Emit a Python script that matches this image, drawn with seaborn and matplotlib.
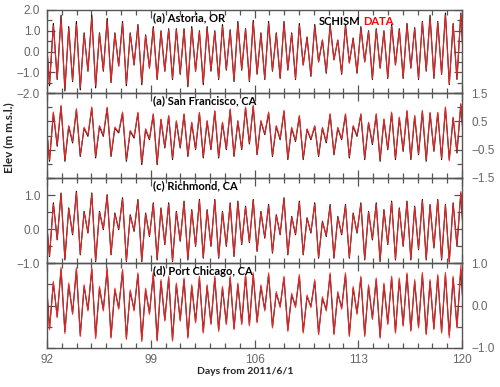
import numpy as np
import pandas as pd
import seaborn as sns
import matplotlib.pyplot as plt
from matplotlib.ticker import MultipleLocator

# -------------------------------------------------------
# tidal extrema (high / low waters)
# -------------------------------------------------------
n_cyc = 55
t_high = 91.91 + 0.5187 * np.arange(n_cyc)   # days from 2011/6/1
t_low = t_high + 0.2594

# (a) Astoria, OR
ast_mod_hi = [1.10, 1.35, 1.75, 1.20, 1.45, 0.90, 1.75, 0.90, 1.60, 0.90, 1.45, 0.90, 1.30, 0.80, 1.20, 1.00, 1.10, 1.10, 1.10, 1.20, 1.00, 1.20, 1.00, 1.30, 1.05, 1.45, 1.10,
              1.50, 0.90, 1.45, 0.90, 1.45, 0.90, 1.35, 0.70, 1.30, 0.55, 1.30, 0.55, 1.30, 0.65, 1.20, 1.00, 1.10, 1.00, 1.30, 1.10, 1.35, 1.15, 1.45, 1.75, 1.45, 1.85, 1.35, 1.85]
ast_obs_hi = [1.00, 1.25, 1.60, 1.10, 1.30, 0.85, 1.60, 0.85, 1.45, 0.85, 1.35, 0.85, 1.20, 0.75, 1.10, 0.95, 1.05, 1.05, 1.05, 1.10, 0.95, 1.10, 0.95, 1.20, 1.00, 1.35, 1.05,
              1.40, 0.85, 1.35, 0.85, 1.35, 0.85, 1.25, 0.65, 1.20, 0.55, 1.20, 0.55, 1.20, 0.60, 1.10, 0.95, 1.05, 0.95, 1.20, 1.05, 1.25, 1.10, 1.40, 1.65, 1.40, 1.75, 1.30, 1.80]
ast_mod_lo = [-1.65, -1.35, -1.90, -1.45, -1.85, -0.95, -1.75, -0.95, -1.50, -0.70, -1.65, -0.65, -1.60, -0.80, -1.35, -0.95, -1.35, -1.10, -1.70, -0.95, -1.60, -0.95, -1.35, -0.90, -1.45, -0.90,
              -1.45, -1.10, -1.35, -0.95, -1.30, -0.90, -1.35, -0.65, -1.20, -0.50, -1.05, -0.40, -1.10, -0.55, -1.05, -0.50, -1.35, -0.80, -1.30, -0.65, -1.30, -0.80, -1.35, -0.95, -1.30, -1.10, -1.60, -1.35, -1.50]
ast_obs_lo = [-1.55, -1.30, -1.80, -1.40, -1.75, -0.95, -1.65, -0.90, -1.45, -0.70, -1.55, -0.65, -1.50, -0.80, -1.30, -0.95, -1.30, -1.05, -1.60, -0.95, -1.50, -0.90, -1.30, -0.85, -1.40, -0.85,
              -1.40, -1.05, -1.30, -0.90, -1.25, -0.85, -1.30, -0.65, -1.15, -0.50, -1.00, -0.40, -1.05, -0.55, -1.00, -0.50, -1.30, -0.80, -1.25, -0.65, -1.25, -0.80, -1.30, -0.90, -1.25, -1.05, -1.55, -1.30, -1.45]

# (a) San Francisco, CA
sf_mod_hi = [0.60, 0.79, 1.03, 0.32, 0.91, 0.26, 0.97, 0.32, 0.97, 0.26, 0.79, 0.15, 0.79, 0.21, 0.74, 0.56, 0.68, 0.50, 0.74, 0.44, 0.79, 0.50, 0.85, 0.44, 0.91, 0.50, 0.97,
             1.03, 0.50, 0.79, 0.32, 0.85, 0.26, 0.68, 0.21, 0.32, 0.26, 0.74, 0.26, 0.74, 0.32, 0.74, 0.44, 0.74, 0.56, 0.79, 0.62, 0.85, 0.68, 0.85, 0.79, 0.79, 0.97, 0.62, 1.09]
sf_obs_hi = [0.62, 0.83, 1.07, 0.35, 0.95, 0.29, 1.01, 0.35, 1.00, 0.30, 0.83, 0.18, 0.82, 0.24, 0.77, 0.58, 0.71, 0.52, 0.77, 0.47, 0.82, 0.53, 0.88, 0.47, 0.94, 0.53, 1.00,
             1.07, 0.53, 0.83, 0.35, 0.89, 0.29, 0.71, 0.24, 0.35, 0.29, 0.77, 0.29, 0.77, 0.35, 0.77, 0.47, 0.77, 0.59, 0.83, 0.65, 0.89, 0.71, 0.89, 0.82, 0.82, 1.01, 0.65, 1.13]
sf_mod_lo = [-0.91, -0.38, -0.91, -0.26, -0.74, -0.03, -0.79, -0.03, -0.74, 0.09, -0.91, -0.09, -1.03, -0.15, -1.03, -0.44, -0.85, -0.44, -0.74, -0.50, -0.79, -0.50, -0.79, -0.50, -0.74, -0.50,
             -0.30, -0.68, 0.03, -0.74, -0.15, -0.85, -0.21, -0.85, -0.15, -0.74, -0.26, -0.68, -0.15, -0.79, -0.03, -0.85, -0.32, -0.91, -0.50, -0.85, -0.56, -0.85, -0.68, -0.91, -0.56, -0.85, -0.85, -0.62, -0.70]
sf_obs_lo = [-0.86, -0.34, -0.86, -0.22, -0.70, 0.01, -0.74, 0.01, -0.70, 0.12, -0.86, -0.05, -0.97, -0.11, -0.97, -0.40, -0.80, -0.40, -0.70, -0.46, -0.74, -0.46, -0.74, -0.46, -0.70, -0.46,
             -0.27, -0.64, 0.06, -0.70, -0.11, -0.80, -0.17, -0.80, -0.11, -0.70, -0.22, -0.64, -0.11, -0.74, 0.01, -0.80, -0.28, -0.86, -0.46, -0.80, -0.52, -0.80, -0.64, -0.86, -0.52, -0.80, -0.90, -0.58, -0.66]

# (c) Richmond, CA
ri_mod_hi = [0.50, 0.77, 1.06, 0.62, 1.11, 0.52, 1.06, 0.52, 1.01, 0.47, 0.92, 0.42, 0.87, 0.47, 0.77, 0.62, 0.77, 0.52, 0.82, 0.57, 0.87, 0.57, 0.87, 0.52, 0.77, 0.82, 0.67,
             0.87, 0.52, 0.72, 0.42, 0.92, 0.37, 0.82, 0.33, 0.77, 0.23, 0.72, 0.37, 0.72, 0.47, 0.77, 0.52, 0.77, 0.57, 0.82, 0.62, 0.82, 0.67, 0.87, 0.72, 0.87, 0.72, 0.77, 1.06]
ri_obs_hi = [0.47, 0.73, 1.02, 0.59, 1.07, 0.49, 1.02, 0.49, 0.97, 0.44, 0.88, 0.39, 0.83, 0.44, 0.73, 0.59, 0.73, 0.49, 0.78, 0.54, 0.83, 0.54, 0.83, 0.49, 0.73, 0.78, 0.64,
             0.83, 0.49, 0.68, 0.39, 0.88, 0.34, 0.78, 0.30, 0.73, 0.21, 0.68, 0.34, 0.68, 0.44, 0.73, 0.49, 0.73, 0.54, 0.78, 0.59, 0.78, 0.64, 0.83, 0.69, 0.85, 0.69, 0.74, 1.10]
ri_mod_lo = [-0.81, -0.32, -0.91, -0.17, -0.76, -0.12, -0.96, -0.02, -0.76, -0.02, -0.96, -0.07, -0.96, -0.22, -0.91, -0.46, -0.96, -0.36, -0.91, -0.51, -0.86, -0.51, -0.86, -0.51, -0.81, -0.46,
             -0.40, -0.66, -0.27, -0.71, -0.17, -0.76, -0.17, -0.76, -0.12, -0.86, -0.22, -0.86, -0.17, -0.86, -0.12, -0.91, -0.32, -0.96, -0.46, -0.91, -0.51, -0.91, -0.61, -0.91, -0.56, -0.91, -0.96, -0.51, -0.80]
ri_obs_lo = [-0.78, -0.29, -0.88, -0.14, -0.73, -0.09, -0.93, 0.01, -0.73, 0.01, -0.93, -0.04, -0.93, -0.19, -0.88, -0.43, -0.93, -0.33, -0.88, -0.48, -0.83, -0.48, -0.83, -0.48, -0.78, -0.43,
             -0.37, -0.63, -0.24, -0.68, -0.14, -0.73, -0.14, -0.73, -0.09, -0.83, -0.19, -0.83, -0.14, -0.83, -0.09, -0.88, -0.29, -0.93, -0.43, -0.88, -0.48, -0.88, -0.58, -0.88, -0.53, -0.88, -0.99, -0.48, -0.77]

# (d) Port Chicago, CA
pc_mod_hi = [0.80, 0.53, 0.85, 0.49, 0.85, 0.45, 0.85, 0.41, 0.85, 0.37, 0.81, 0.33, 0.73, 0.37, 0.73, 0.57, 0.65, 0.49, 0.61, 0.45, 0.65, 0.45, 0.65, 0.41, 0.65, 0.49, 0.69,
             0.73, 0.45, 0.73, 0.29, 0.65, 0.25, 0.69, 0.21, 0.57, 0.17, 0.73, 0.29, 0.73, 0.41, 0.65, 0.45, 0.61, 0.49, 0.65, 0.61, 0.73, 0.57, 0.73, 0.57, 0.69, 0.73, 0.65, 0.85]
pc_obs_hi = [0.84, 0.57, 0.90, 0.53, 0.89, 0.49, 0.89, 0.45, 0.89, 0.41, 0.85, 0.37, 0.77, 0.41, 0.77, 0.61, 0.69, 0.53, 0.65, 0.49, 0.69, 0.49, 0.69, 0.45, 0.69, 0.53, 0.73,
             0.77, 0.49, 0.77, 0.33, 0.69, 0.29, 0.73, 0.25, 0.61, 0.21, 0.77, 0.33, 0.77, 0.45, 0.69, 0.49, 0.65, 0.53, 0.69, 0.65, 0.77, 0.61, 0.78, 0.61, 0.73, 0.78, 0.69, 0.95]
pc_mod_lo = [-0.54, -0.26, -0.62, -0.18, -0.70, -0.10, -0.74, -0.10, -0.74, -0.06, -0.77, -0.10, -0.81, -0.18, -0.81, -0.34, -0.81, -0.34, -0.74, -0.38, -0.62, -0.42, -0.58, -0.42, -0.54, -0.42,
             -0.45, -0.38, -0.10, -0.50, -0.02, -0.58, -0.02, -0.62, -0.02, -0.66, -0.10, -0.66, -0.06, -0.70, -0.18, -0.70, -0.30, -0.74, -0.42, -0.62, -0.46, -0.58, -0.50, -0.66, -0.54, -0.62, -0.70, -0.50, -0.60]
pc_obs_lo = [-0.57, -0.29, -0.66, -0.21, -0.73, -0.13, -0.78, -0.13, -0.77, -0.09, -0.80, -0.13, -0.85, -0.21, -0.84, -0.37, -0.84, -0.37, -0.77, -0.41, -0.65, -0.45, -0.61, -0.45, -0.57, -0.45,
             -0.48, -0.41, -0.13, -0.53, -0.05, -0.61, -0.05, -0.65, -0.05, -0.69, -0.13, -0.69, -0.09, -0.73, -0.21, -0.73, -0.33, -0.77, -0.45, -0.65, -0.49, -0.61, -0.53, -0.69, -0.57, -0.65, -0.76, -0.53, -0.63]

station_titles = ['(a) Astoria, OR', '(a) San Francisco, CA', '(c) Richmond, CA', '(d) Port Chicago, CA']
day_ticks = [92, 99, 106, 113, 120]


def tide_df(hi, lo):
    d = pd.DataFrame({'day': np.r_[t_high, t_low], 'elev': np.r_[hi, lo]})
    return d.sort_values('day')


#%%
# -------------------------------------------------------
# 4 stacked panels
# -------------------------------------------------------
sns.set_style('ticks')
plt.rcParams['font.family'] = ['Liberation Sans', 'DejaVu Sans']

fig = plt.figure(figsize=(5.0, 3.87), dpi=100)
W, H = 500, 387
edges = [10, 93, 178, 263, 348]   # panel top/bottom, pixels
gray = '#555555'
bold_font = ['Lato', 'DejaVu Sans']

panels = [
    (ast_mod_hi, ast_obs_hi, ast_mod_lo, ast_obs_lo, (-2.0, 2.0), [-2, -1, 0, 1, 2], 'left'),
    (sf_mod_hi, sf_obs_hi, sf_mod_lo, sf_obs_lo, (-1.5, 1.5), [-1.5, -0.5, 0.5, 1.5], 'right'),
    (ri_mod_hi, ri_obs_hi, ri_mod_lo, ri_obs_lo, (-1.0, 1.5), [-1, 0, 1], 'left'),
    (pc_mod_hi, pc_obs_hi, pc_mod_lo, pc_obs_lo, (-1.0, 1.0), [-1, 0, 1], 'right'),
]

for i, (mh, oh, ml, ol, ylim, yt, side) in enumerate(panels):
    top, bot = edges[i], edges[i + 1]
    ax = fig.add_axes([47 / W, 1 - bot / H, 415 / W, (bot - top) / H])
    ax.set_facecolor('none')

    sns.lineplot(data=tide_df(mh, ml), x='day', y='elev', color='black',
                 linewidth=0.8, estimator=None, ax=ax)
    sns.lineplot(data=tide_df(oh, ol), x='day', y='elev', color='#ff2a2a',
                 linewidth=0.8, alpha=0.9, estimator=None, ax=ax)

    ax.set_xlim(92, 120)
    ax.set_ylim(*ylim)
    ax.set_xticks(day_ticks, [str(d) for d in day_ticks])
    ax.xaxis.set_minor_locator(MultipleLocator(1))
    ax.set_yticks(yt, [f'{v:.1f}'.replace('-', '\u2212') for v in yt])
    ax.yaxis.set_minor_locator(MultipleLocator(0.5))
    ax.set_xlabel('')
    ax.set_ylabel('')

    for s in ax.spines.values():
        s.set_color(gray)
        s.set_linewidth(1.0)
    ax.tick_params(which='both', direction='in', top=True, right=True,
                   color=gray, labelcolor='#666666', labelsize=8.5)
    ax.tick_params(which='major', length=6, width=0.9)
    ax.tick_params(which='minor', length=3.5, width=0.9)
    ax.tick_params(axis='x', labelbottom=(i == 3), pad=4)
    if side == 'left':
        ax.tick_params(axis='y', labelleft=True, labelright=False, pad=5)
    else:
        ax.tick_params(axis='y', labelleft=False, labelright=True, pad=6.5)

    ty = 1 - 8 / (bot - top)
    ax.text(0.255, ty, station_titles[i], transform=ax.transAxes, ha='left', va='center',
            fontsize=8, fontweight='bold', family=bold_font, color='black')
    if i == 0:
        ax.text(0.655, 0.86, 'SCHISM', transform=ax.transAxes, ha='left', va='center',
                fontsize=8, fontweight='bold', family=bold_font, color='black')
        ax.text(0.762, 0.86, 'DATA', transform=ax.transAxes, ha='left', va='center',
                fontsize=8, fontweight='bold', family=bold_font, color='red')

fig.text(0.018, 1 - 138 / H, 'Elev (m m.s.l.)', rotation=90, ha='center', va='center',
         fontsize=8.5, fontweight='bold', family=bold_font)
fig.text(245 / W, 1 - 372 / H, 'Days from 2011/6/1', ha='center', va='center',
         fontsize=7.5, fontweight='bold', family=bold_font)

fig.savefig('out.png', dpi=100)
